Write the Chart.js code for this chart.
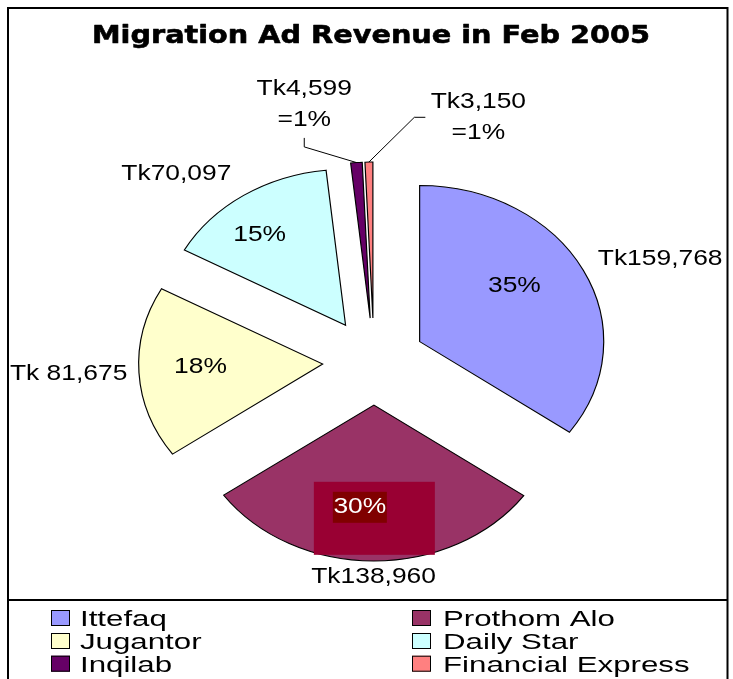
<!DOCTYPE html>
<html><head><meta charset="utf-8">
<script src="https://cdn.jsdelivr.net/npm/chart.js@4.4.1/dist/chart.umd.min.js"></script>
<style>html,body{margin:0;padding:0;background:#fff;overflow:hidden}canvas{display:block}</style>
</head><body>
<canvas id="c" width="733" height="679"></canvas>
<script>
// ---- data ----
const chartTitle = 'Migration Ad Revenue in Feb 2005';
const categories = ['Ittefaq', 'Prothom Alo', 'Jugantor', 'Daily Star', 'Inqilab', 'Financial Express'];
const revenue = [159768, 138960, 81675, 70097, 4599, 3150];
const valueLabels = ['Tk159,768', 'Tk138,960', 'Tk 81,675', 'Tk70,097', 'Tk4,599', 'Tk3,150'];
const sliceColors = ['#9999FF', '#993366', '#FFFFCC', '#CCFFFF', '#660066', '#FF8080'];

// ---- layout / style ----
const SX = 1.18;          // horizontal stretch of the pie (elliptical look)
const EXPLODE = 43.5;     // explode distance
const PIE_RADIUS = 156;
const TEXT_SX = 1.2;
const LABEL_FONT = '22px "Liberation Sans", Arial, sans-serif';
// [angle delta from slice mid (deg, clockwise), distance from slice apex]
const pctLayout = [[-7.45, 97.7], [6.55, 103], [1.8, 103.6], [-5.35, 115.8], null, null];
const valLayout = [[5.15, 220], [0, 172], [0.6, 215.6], [-9.75, 208.8], [-10.4, 220.4], [25.24, 219.7]];

const total = revenue.reduce((a, b) => a + b, 0);
const pctText = revenue.map(v => Math.round(v / total * 100) + '%');

function apexOf(arc) {
  const m = (arc.startAngle + arc.endAngle) / 2;
  return { x: arc.x + SX * Math.cos(m) * EXPLODE, y: arc.y + Math.sin(m) * EXPLODE, m };
}
function polar(arc, dDeg, dist) {
  const a = apexOf(arc);
  const ang = a.m + dDeg * Math.PI / 180;
  return { x: a.x + SX * Math.cos(ang) * dist, y: a.y + Math.sin(ang) * dist };
}
function sText(ctx, txt, x, y, sx, align, baseline, strokeW) {
  ctx.save();
  ctx.translate(x, y);
  ctx.scale(sx, 1);
  ctx.textAlign = align || 'center';
  ctx.textBaseline = baseline || 'middle';
  ctx.fillText(txt, 0, 0);
  if (strokeW) {
    ctx.lineWidth = strokeW;
    ctx.lineJoin = 'round';
    ctx.strokeStyle = ctx.fillStyle;
    ctx.strokeText(txt, 0, 0);
  }
  ctx.restore();
}

const framePlugin = {
  id: 'frame',
  beforeDraw(chart) {
    const ctx = chart.ctx;
    ctx.save();
    ctx.fillStyle = '#fff';
    ctx.fillRect(0, 0, chart.width, chart.height);
    ctx.strokeStyle = '#000';
    ctx.lineWidth = 2;
    ctx.beginPath();
    ctx.moveTo(8, 700); ctx.lineTo(8, 8); ctx.lineTo(727.5, 8); ctx.lineTo(727.5, 700);
    ctx.moveTo(8, 600); ctx.lineTo(727.5, 600);
    ctx.stroke();
    ctx.restore();
  }
};

const explodePlugin = {
  id: 'explodePie',
  beforeDatasetDraw(chart, args) {
    const ctx = chart.ctx;
    args.meta.data.forEach(arc => {
      const m = (arc.startAngle + arc.endAngle) / 2;
      ctx.save();
      ctx.translate(arc.x, arc.y);
      ctx.scale(SX, 1);
      ctx.translate(Math.cos(m) * EXPLODE - arc.x, Math.sin(m) * EXPLODE - arc.y);
      arc.draw(ctx);
      ctx.restore();
    });
    return false;
  }
};

const labelPlugin = {
  id: 'sliceLabels',
  afterDatasetsDraw(chart) {
    const ctx = chart.ctx;
    const arcs = chart.getDatasetMeta(0).data;
    ctx.save();
    ctx.font = LABEL_FONT;
    arcs.forEach((arc, i) => {
      if (pctLayout[i]) {
        const p = polar(arc, pctLayout[i][0], pctLayout[i][1]);
        if (i === 1) {
          ctx.fillStyle = '#990033';
          ctx.fillRect(p.x - 46, p.y - 25.5, 121, 73);
          ctx.fillStyle = '#800000';
          ctx.fillRect(p.x - 27, p.y - 15.5, 54, 31);
          ctx.fillStyle = '#fff';
        } else {
          ctx.fillStyle = '#000';
        }
        sText(ctx, pctText[i], p.x, p.y, TEXT_SX);
      }
      const v = polar(arc, valLayout[i][0], valLayout[i][1]);
      ctx.fillStyle = '#000';
      if (pctLayout[i]) {
        sText(ctx, valueLabels[i], v.x, v.y, TEXT_SX);
      } else {
        sText(ctx, valueLabels[i], v.x, v.y - 15.5, TEXT_SX);
        sText(ctx, '=' + pctText[i], v.x, v.y + 15.5, TEXT_SX);
        const tip = polar(arc, 0, PIE_RADIUS);
        ctx.strokeStyle = '#000';
        ctx.lineWidth = 1;
        ctx.beginPath();
        if (i === 4) {
          ctx.moveTo(v.x, v.y + 33); ctx.lineTo(v.x, v.y + 42); ctx.lineTo(tip.x, tip.y);
        } else {
          ctx.moveTo(v.x - 53, v.y); ctx.lineTo(v.x - 64, v.y); ctx.lineTo(tip.x, tip.y);
        }
        ctx.stroke();
      }
    });
    ctx.restore();
  }
};

const titleLegendPlugin = {
  id: 'titleLegend',
  afterDraw(chart) {
    const ctx = chart.ctx;
    ctx.save();
    ctx.fillStyle = '#000';
    ctx.font = 'bold 25px "DejaVu Sans", sans-serif';
    const w = ctx.measureText(chartTitle).width;
    sText(ctx, chartTitle, 371, 43.3, 558 / w, 'center', 'alphabetic', 0.6);
    const colBox = [51, 412], colText = [80, 443], rowBase = [626, 649, 671.7];
    ctx.font = '22px "Liberation Sans", Arial, sans-serif';
    categories.forEach((name, i) => {
      const c = i % 2, r = Math.floor(i / 2);
      ctx.fillStyle = sliceColors[i];
      ctx.fillRect(colBox[c], rowBase[r] - 16, 19, 16);
      ctx.strokeStyle = '#000';
      ctx.lineWidth = 1;
      ctx.strokeRect(colBox[c] + 0.5, rowBase[r] - 15.5, 18, 15);
      ctx.fillStyle = '#000';
      sText(ctx, name, colText[c], rowBase[r], 1.42, 'left', 'alphabetic');
    });
    ctx.restore();
  }
};

new Chart(document.getElementById('c'), {
  type: 'pie',
  data: {
    labels: categories,
    datasets: [{
      data: revenue,
      backgroundColor: sliceColors,
      borderColor: '#000',
      borderWidth: 1,
      borderJoinStyle: 'miter'
    }]
  },
  options: {
    responsive: false,
    animation: false,
    events: [],
    devicePixelRatio: 1,
    radius: PIE_RADIUS,
    layout: { padding: { left: 65, right: 50, top: 94, bottom: 50 } },
    plugins: { legend: { display: false }, title: { display: false }, tooltip: { enabled: false } }
  },
  plugins: [framePlugin, explodePlugin, labelPlugin, titleLegendPlugin]
});
</script>
</body></html>
